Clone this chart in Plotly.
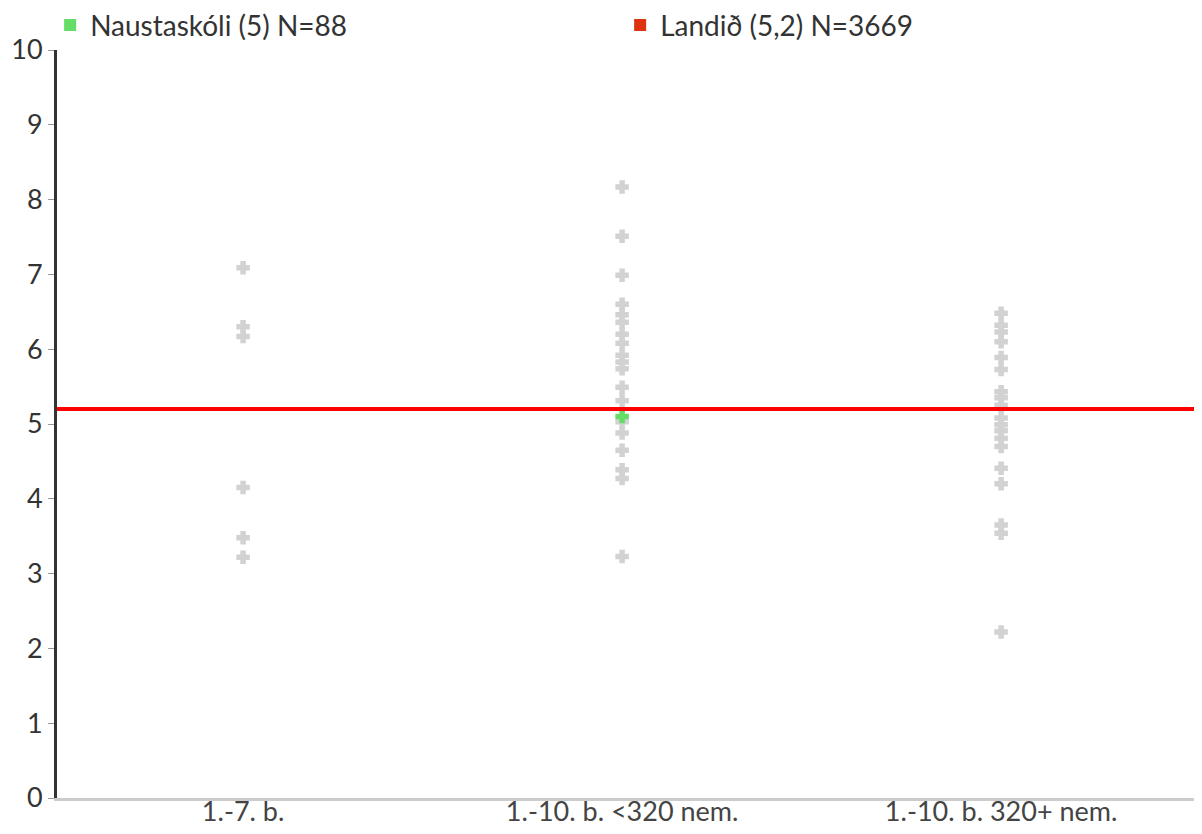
import plotly.graph_objects as go

categories = ["1.-7. b.", "1.-10. b. <320 nem.", "1.-10. b. 320+ nem."]

group1 = [7.09, 6.30, 6.17, 4.15, 3.48, 3.22]
group2 = [8.17, 7.51, 6.99, 6.60, 6.46, 6.36, 6.20, 6.08, 5.92, 5.83, 5.74,
          5.49, 5.31, 5.03, 4.88, 4.65, 4.39, 4.27, 3.23]
group3 = [6.48, 6.32, 6.23, 6.10, 5.89, 5.73, 5.43, 5.35, 5.25, 5.08, 4.99,
          4.91, 4.81, 4.70, 4.41, 4.20, 3.65, 3.54, 2.22]

school_name = "Naustaskóli (5) N=88"
school_category = "1.-10. b. <320 nem."
school_value = 5.1

national_name = "Landið (5,2) N=3669"
national_value = 5.2

y_ticks = list(range(0, 11))

FONT = "Lato, 'Open Sans', sans-serif"

fig = go.Figure()

gx, gy = [], []
for cat, vals in zip(categories, [group1, group2, group3]):
    gx += [cat] * len(vals)
    gy += vals

fig.add_trace(go.Scatter(
    x=gx, y=gy, mode="markers", showlegend=False,
    marker=dict(symbol="cross", size=10, color="#d2d2d2",
                line=dict(color="#d2d2d2", width=1.5)),
    hoverinfo="y",
))

fig.add_trace(go.Scatter(
    x=[school_category], y=[school_value], mode="markers", showlegend=False,
    marker=dict(symbol="cross", size=10, color="#66dd66",
                line=dict(color="#66dd66", width=1.5)),
))

# legend entries
fig.add_trace(go.Scatter(
    x=[None], y=[None], mode="markers", name=school_name,
    marker=dict(symbol="square", size=10, color="#66dd66"),
))
fig.add_trace(go.Scatter(
    x=[None], y=[None], mode="markers", name=national_name,
    marker=dict(symbol="square", size=10, color="#dd3311"),
))

fig.add_shape(type="line", xref="paper", x0=0, x1=1, yref="y",
              y0=national_value, y1=national_value,
              line=dict(color="#ff0000", width=4))

fig.update_layout(
    width=1194, height=826,
    margin=dict(l=49, r=0, t=42, b=36, autoexpand=False),
    paper_bgcolor="white", plot_bgcolor="white",
    font=dict(family=FONT, size=27, color="#333333"),
    legend=dict(orientation="h", x=-0.006, xanchor="left", y=1.0665, yanchor="top",
                entrywidth=525, entrywidthmode="pixels",
                font=dict(size=28, color="#333333"), bgcolor="rgba(0,0,0,0)",
                itemsizing="constant"),
    xaxis=dict(type="category", categoryorder="array", categoryarray=categories,
               range=[-0.491, 2.530], showgrid=False, zeroline=False,
               showline=True, linecolor="#cccccc", linewidth=3,
               ticks="", ticklabelstandoff=-12,
               tickfont=dict(size=27, color="#444444")),
    yaxis=dict(range=[0, 10], tickvals=y_ticks, showgrid=False, zeroline=False,
               showline=True, linecolor="#333333", linewidth=3,
               ticks="outside", ticklen=6, tickcolor="#999999", tickwidth=1,
               tickfont=dict(size=27, color="#333333")),
)

fig.write_html("out.html")
